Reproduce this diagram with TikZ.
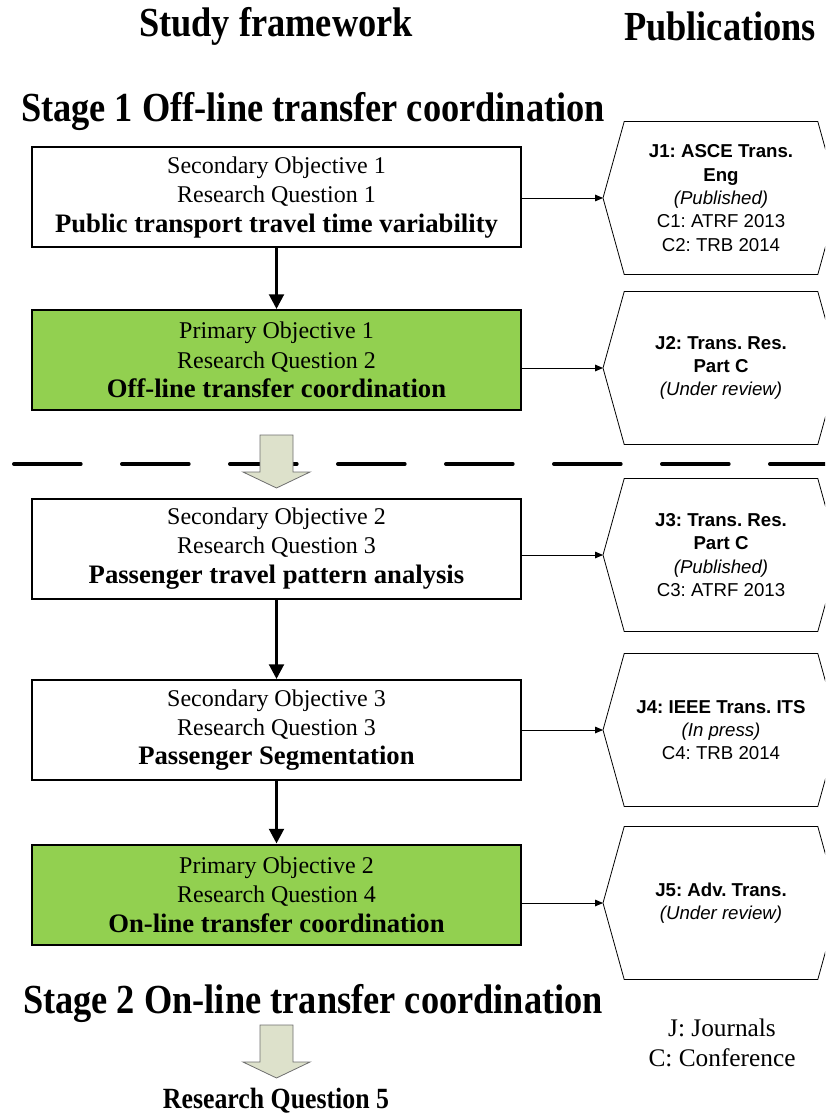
\documentclass[tikz,border=0pt]{standalone}
\usepackage{xcolor}
\usepackage{fontspec}
\setmainfont{Liberation Serif}
\setsansfont{Liberation Sans}
\newfontfamily\headfont[FakeStretch=0.88]{Liberation Serif}
\usepackage{tikz}
\usetikzlibrary{shapes.symbols, arrows.meta, positioning}
\definecolor{objgreen}{HTML}{92D050}
\definecolor{arrowfill}{HTML}{DDE1CB}
\definecolor{arrowline}{HTML}{6E6E6E}
\newcommand{\keyline}[1]{{\fontsize{20}{22}\selectfont\bfseries #1}}
\frenchspacing

\begin{document}
\begin{tikzpicture}[
  x=0.75pt, y=-0.75pt,
  objbox/.style={draw=black, line width=1.5pt, fill=white, align=center,
                 minimum width=366.75pt, minimum height=75pt, inner sep=0pt,
                 font=\fontsize{18}{22}\selectfont,
                 execute at begin node=\rule{0pt}{20pt}},
  primary/.style={objbox, fill=objgreen},
  pubbox/.style={draw=black, line width=0.6pt, shape=signal, signal to=west and east,
                 signal pointer angle=149, minimum width=177pt, minimum height=114.75pt,
                 inner sep=0pt, outer sep=0pt, align=center,
                 font=\sffamily\fontsize{14}{17.5}\selectfont},
  heading/.style={font=\headfont\bfseries\fontsize{31}{34}\selectfont, inner sep=0pt},
  flow/.style={draw=black, line width=2.2pt, -{Triangle[length=11pt,width=11pt]}},
  pubarrow/.style={draw=black, line width=0.7pt, -{Triangle[length=6pt,width=5pt]}},
  blockarrow/.style={draw=arrowline, line width=0.6pt, fill=arrowfill},
  divider/.style={draw=black, line width=3pt, line cap=round, dash pattern=on 50pt off 31pt},
  legend/.style={font=\fontsize{19}{22}\selectfont, inner sep=0pt},
]
\useasboundingbox (0,0) rectangle (825,1119);
\clip (0,0) rectangle (825,1119);

% column titles
\node[heading] (studyhead) at (276,26) {Study framework};
\node[heading] (pubhead) at (720,26) {Publications};

\node[heading] (stage1) at (313,112) {Stage 1 Off-line transfer coordination};

% framework boxes
\node[objbox] (obj1) at (276.5,197.5) {Secondary Objective 1\\Research Question 1\\\keyline{Public transport travel time variability}};
\node[primary] (obj2) at (276.5,360) {Primary Objective 1\\Research Question 2\\\keyline{Off-line transfer coordination}};
\node[objbox] (obj3) at (276.5,548.5) {Secondary Objective 2\\Research Question 3\\\keyline{Passenger travel pattern analysis}};
\node[objbox] (obj4) at (276.5,730) {Secondary Objective 3\\Research Question 3\\\keyline{Passenger Segmentation}};
\node[primary] (obj5) at (276.5,894.5) {Primary Objective 2\\Research Question 4\\\keyline{On-line transfer coordination}};

\draw[flow] (obj1) -- (obj2);
\draw[flow] (obj3) -- (obj4);
\draw[flow] (obj4) -- (obj5);

% publications
\node[pubbox] (pub1) at (721,198) {\textbf{J1: ASCE Trans.}\\\textbf{Eng}\\\textit{(Published)}\\C1: ATRF 2013\\C2: TRB 2014};
\node[pubbox] (pub2) at (721,368) {\textbf{J2: Trans. Res.}\\\textbf{Part C}\\\textit{(Under review)}};
\node[pubbox] (pub3) at (721,555) {\textbf{J3: Trans. Res.}\\\textbf{Part C}\\\textit{(Published)}\\C3: ATRF 2013};
\node[pubbox] (pub4) at (721,730) {\textbf{J4: IEEE Trans. ITS}\\\textit{(In press)}\\C4: TRB 2014};
\node[pubbox] (pub5) at (721,903) {\textbf{J5: Adv. Trans.}\\\textit{(Under review)}};

\foreach \i in {1,...,5}
  \draw[pubarrow] (obj\i.east |- pub\i.west) -- (pub\i.west);

% stage divider
\draw[divider] (14,464) -- (825,464);
\draw[blockarrow] (260,435) -- (293,435) -- (293,472) -- (310,472) -- (276.5,488)
  -- (243,472) -- (260,472) -- cycle;

\node[heading] (stage2) at (313,1003) {Stage 2 On-line transfer coordination};
\draw[blockarrow] (260,1025) -- (293,1025) -- (293,1062) -- (310,1062) -- (276.5,1078)
  -- (243,1062) -- (260,1062) -- cycle;
\node[heading, font=\headfont\bfseries\fontsize{22}{24}\selectfont] (rq5) at (276,1101) {Research Question 5};

% legend
\node[legend] (legj) at (722,1028) {J: Journals};
\node[legend] (legc) at (722,1058) {C: Conference};

\end{tikzpicture}
\end{document}
